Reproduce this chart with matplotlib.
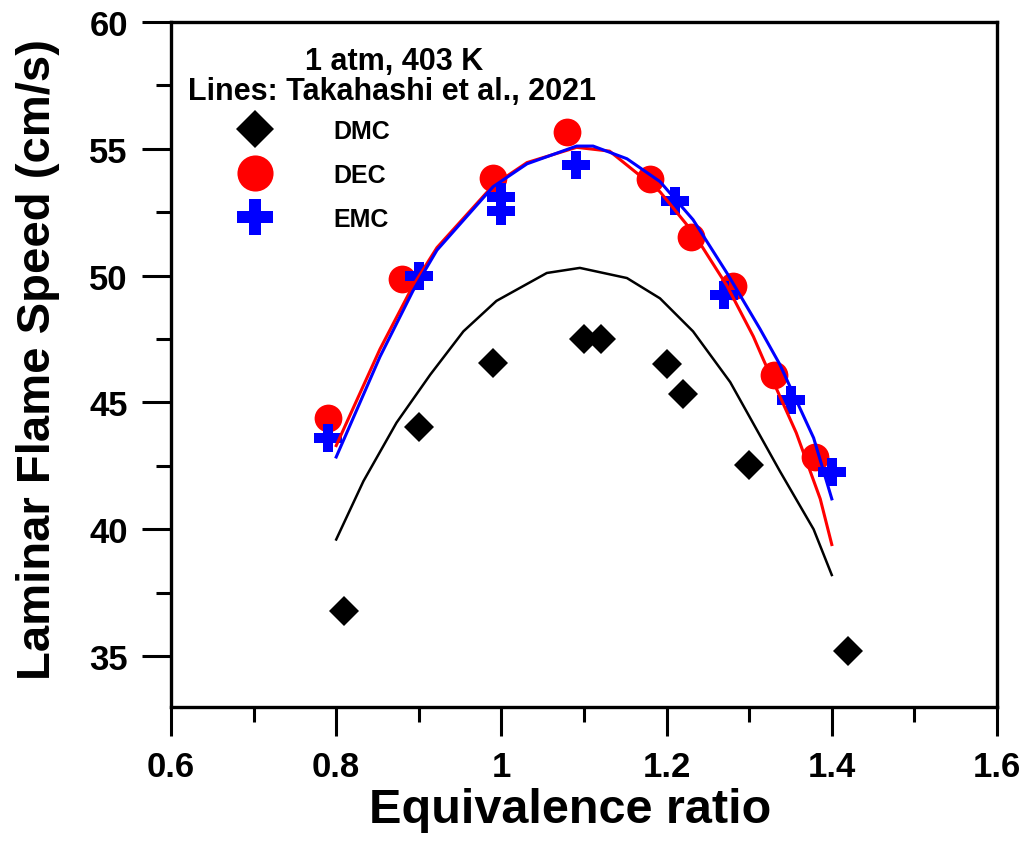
import matplotlib
matplotlib.use("Agg")
import matplotlib.pyplot as plt
from matplotlib.ticker import MultipleLocator
from matplotlib.lines import Line2D

plt.rcParams['font.family'] = ['Liberation Sans', 'DejaVu Sans']
plt.rcParams['font.weight'] = 'bold'

# experimental points
dmc_x = [0.81, 0.90, 0.99, 1.10, 1.12, 1.20, 1.22, 1.30, 1.42]
dmc_y = [36.8, 44.05, 46.55, 47.5, 47.5, 46.5, 45.35, 42.55, 35.2]

dec_x = [0.79, 0.88, 0.99, 1.08, 1.18, 1.23, 1.28, 1.33, 1.38]
dec_y = [44.4, 49.85, 53.85, 55.65, 53.8, 51.5, 49.6, 46.1, 42.85]

emc_x = [0.79, 0.90, 1.00, 1.00, 1.09, 1.21, 1.27, 1.35, 1.40]
emc_y = [43.6, 50.0, 53.1, 52.55, 54.35, 52.95, 49.25, 45.1, 42.25]

# model lines (Takahashi et al., 2021)
dmc_line_x = [0.800, 0.833, 0.873, 0.914, 0.954, 0.994, 1.055, 1.095,
              1.152, 1.192, 1.232, 1.277, 1.337, 1.378, 1.400]
dmc_line_y = [39.6, 41.9, 44.2, 46.1, 47.8, 49.0, 50.1, 50.3,
              49.9, 49.1, 47.8, 45.8, 42.3, 40.0, 38.2]

dec_line_x = [0.800, 0.853, 0.893, 0.922, 0.990, 1.031, 1.091, 1.131, 1.152,
              1.192, 1.232, 1.273, 1.305, 1.317, 1.357, 1.386, 1.400]
dec_line_y = [43.3, 47.1, 49.6, 51.1, 53.55, 54.45, 55.05, 54.9, 54.35,
              53.3, 51.7, 49.6, 47.6, 46.7, 43.8, 41.2, 39.4]

emc_line_x = [0.800, 0.853, 0.893, 0.922, 0.990, 1.031, 1.091, 1.111, 1.152,
              1.192, 1.232, 1.273, 1.313, 1.337, 1.378, 1.400]
emc_line_y = [42.85, 46.8, 49.4, 51.0, 53.5, 54.4, 55.1, 55.1, 54.6,
              53.7, 52.2, 50.1, 47.9, 46.5, 43.6, 41.2]

fig = plt.figure(figsize=(10.24, 8.45), dpi=100)
ax = fig.add_axes([171/1024, 1-708/845, 826/1024, 685.3/845])

# markers
ax.plot(dmc_x, dmc_y, 'D', color='black', markersize=15, markeredgewidth=0, zorder=3)
ax.plot(dec_x, dec_y, 'o', color='red', markersize=20, markeredgewidth=0, zorder=3)
ax.plot(emc_x, emc_y, 'P', color='blue', markersize=20, markeredgewidth=0, zorder=4)

# lines
ax.plot(dmc_line_x, dmc_line_y, '-', color='black', lw=1.8, zorder=5,
        solid_joinstyle='round')
ax.plot(dec_line_x, dec_line_y, '-', color='red', lw=2.2, zorder=5,
        solid_joinstyle='round')
ax.plot(emc_line_x, emc_line_y, '-', color='blue', lw=2.2, zorder=6,
        solid_joinstyle='round')

ax.set_xlim(0.6, 1.6)
ax.set_ylim(33, 60)
ax.xaxis.set_minor_locator(MultipleLocator(0.1))
ax.yaxis.set_major_locator(MultipleLocator(5))
ax.yaxis.set_minor_locator(MultipleLocator(2.5))
ax.set_xticks([0.6, 0.8, 1.0, 1.2, 1.4, 1.6])
ax.set_xticklabels(['0.6', '0.8', '1', '1.2', '1.4', '1.6'])

for s in ax.spines.values():
    s.set_linewidth(2.4)
ax.tick_params(which='major', direction='out', length=21, width=2.2, pad=10,
               labelsize=25)
ax.tick_params(which='minor', direction='out', length=11, width=2.2)
for lab in ax.get_xticklabels() + ax.get_yticklabels():
    lab.set_fontweight('bold')

ax.set_xlabel('Equivalence ratio', fontsize=35, fontweight='bold')
ax.set_ylabel('Laminar Flame Speed (cm/s)', fontsize=34, fontweight='bold')
ax.xaxis.set_label_coords(0.483, -0.117)
ax.yaxis.set_label_coords(-0.134, 0.508)

fig.text(394/1024, 1-62/845, '1 atm, 403 K', ha='center', va='center',
         fontsize=22, fontweight='bold')
fig.text(392/1024, 1-92/845, 'Lines: Takahashi et al., 2021', ha='center',
         va='center', fontsize=22, fontweight='bold')

handles = [
    Line2D([], [], ls='none', marker='D', color='black', markersize=15, markeredgewidth=0),
    Line2D([], [], ls='none', marker='o', color='red', markersize=20, markeredgewidth=0),
    Line2D([], [], ls='none', marker='P', color='blue', markersize=20, markeredgewidth=0),
]
leg = ax.legend(handles, ['DMC', 'DEC', 'EMC'], loc='upper left',
                bbox_to_anchor=(236/1024, 1-120/845), bbox_transform=fig.transFigure,
                frameon=False, markerscale=1.3, handlelength=1.5,
                handletextpad=2.4, labelspacing=0.8, borderpad=0,
                borderaxespad=0, prop={'size': 18, 'weight': 'bold'})

fig.savefig('out.png', dpi=100)
